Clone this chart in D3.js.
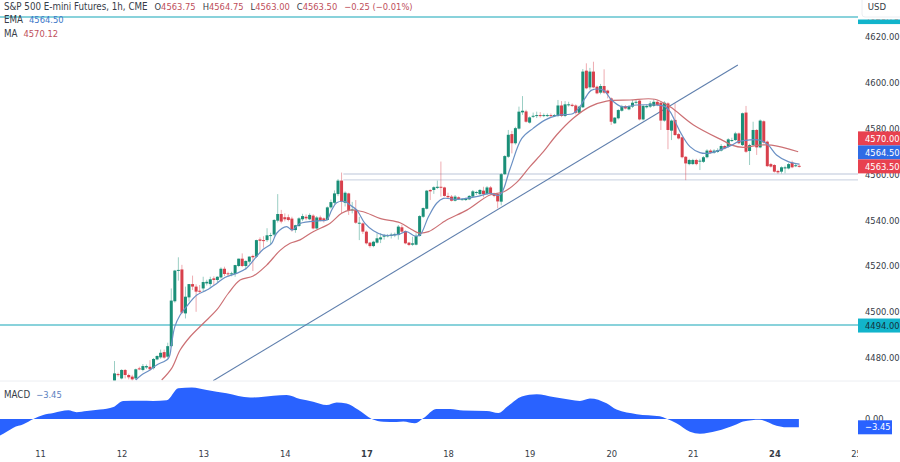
<!DOCTYPE html>
<html>
<head>
<meta charset="utf-8">
<script src="https://cdn.jsdelivr.net/npm/d3@7"></script>
<style>
  html, body { margin: 0; padding: 0; background: #fff; overflow: hidden; }
  text { font-family: "DejaVu Sans Condensed", "DejaVu Sans", sans-serif; }
</style>
</head>
<body>
<svg id="chart" width="900" height="462"></svg>
<script>
var firstBar = 21;

var opens = [
  4469.9,4472.8,4470.9,4474.6,4472.4,4471.7,4470.9,4475.3,4474.6,4475.7,
  4476,4475.4,4479.2,4480.1,4482.4,4480.4,4485,4504.6,4518,4518.5,
  4499.3,4506.3,4512.1,4511,4509.2,4510.2,4512.4,4512.1,4514.6,4513.9,
  4515,4518.8,4516.8,4516.5,4516.5,4520,4523.2,4520,4521.9,4524.4,
  4524.1,4531.6,4531.3,4531.3,4533.5,4533.7,4539.8,4542.7,4541.3,4541.3,
  4540.7,4535.7,4537.5,4540.4,4541.5,4540.4,4542,4536.4,4541.2,4540.8,
  4540.1,4545.6,4547.6,4551.4,4557.3,4547.6,4551.7,4544.5,4544.7,4538.6,
  4538.6,4535,4530.2,4528.7,4530.2,4531.6,4532.8,4533.1,4533.1,4533.4,
  4533.5,4536.9,4535.3,4530.2,4529.3,4529.3,4533.1,4541.5,4545,4553.2,
  4553.2,4554.1,4554.6,4554.3,4550.6,4550.3,4548.5,4550,4549.1,4548.8,
  4549.1,4550.3,4552.2,4551.4,4552.9,4551.4,4554.3,4551.7,4551.4,4548.1,
  4560.1,4567.7,4577.6,4573.6,4580,4587.1,4587.5,4582.6,4585.2,4585.5,
  4585.9,4585.5,4585.5,4585.9,4585.6,4585.5,4590.1,4585.5,4590.3,4590.4,
  4590.1,4586.9,4589.3,4605.3,4598,4604.9,4598.3,4595.7,4598.6,4596.6,
  4593.2,4582.3,4584.5,4587.8,4589.8,4588.4,4589.6,4591.5,4592.2,4584,
  4589.3,4589.6,4589.9,4591.7,4591.3,4583.5,4591,4579.1,4583.8,4577.6,
  4576.2,4567.7,4564.5,4564.5,4566.3,4565.7,4565.5,4567.5,4570.4,4569.5,
  4569.8,4570.4,4572.4,4572.1,4574.7,4575,4577.9,4572.8,4587,4570.2,
  4572.8,4579.4,4571.8,4583.2,4574.3,4564.5,4564.1,4561.5,4561.2,4562.6,
  4562.6,4565.1,4563.7,4563.75
];
var highs = [
  4478.5,4473.4,4474.9,4475,4473,4472.5,4475.2,4476,4477.2,4477,
  4478.9,4479.8,4481,4483.5,4483.5,4486.5,4510.2,4518.3,4523.8,4520.5,
  4511,4512.1,4515.8,4512,4511.7,4515.3,4514,4515.3,4515.5,4515.5,
  4519.4,4519.7,4517.5,4517.5,4520.5,4523.2,4525.5,4522.5,4524.2,4525,
  4531.5,4532.5,4533,4536.5,4534.5,4540.5,4551.4,4544.5,4543,4542.5,
  4541.5,4538,4541.3,4542.8,4542.5,4543,4542.6,4541.8,4542,4541.2,
  4546,4549,4553,4558,4560.8,4552.6,4552,4548,4548.8,4541.5,
  4539,4535.5,4530.5,4531,4534.3,4534.3,4534,4534,4534.5,4534.6,
  4537.9,4538,4535.6,4530.5,4532.8,4534.3,4542.2,4545.6,4553.2,4553.5,
  4554.8,4557.3,4565.6,4554.6,4552,4551,4551,4550.4,4549.6,4549.8,
  4551,4553.2,4552.8,4553.6,4554.6,4554.9,4554.9,4552,4551.8,4560.6,
  4568.4,4579.4,4579,4580.8,4589.6,4594.2,4588.2,4585.3,4587,4587.4,
  4587.2,4586.6,4586.6,4586.6,4586.4,4592.5,4592,4592,4591.7,4591,
  4590.6,4590,4606,4608.5,4606.5,4609.2,4598.8,4599.5,4605.9,4597,
  4593.6,4585,4588.5,4590.4,4590.3,4590.2,4592.5,4592.5,4592.8,4590.3,
  4590.6,4592,4592.8,4592.5,4592,4592,4591.5,4584,4591,4578,
  4576.6,4568,4566.8,4566.8,4566.8,4566.8,4568,4571,4571,4571,
  4571.4,4573.2,4572.8,4575.8,4576,4578.6,4578.3,4587,4589.9,4573.4,
  4583,4579.8,4584,4583.6,4574.8,4565,4564.5,4562,4563.5,4563.8,
  4565,4566,4565,4564.75
];
var lows = [
  4469.6,4471.7,4470.5,4470.9,4470.5,4469.9,4470.2,4474.5,4474,4475,
  4474.3,4474.8,4478.8,4479.5,4479.5,4479.5,4484.5,4504,4513.6,4499,
  4497.1,4504.5,4509.5,4500,4508,4509,4511.5,4511,4511.7,4513,
  4514.5,4515.6,4515.3,4515.5,4515.3,4519.5,4519.5,4518.3,4521,4517.8,
  4523.5,4525.5,4528,4530.5,4529.2,4533,4539,4538.6,4539.5,4539.5,
  4535,4534.5,4537,4539.6,4540,4540,4536,4536,4539.5,4539,
  4539.8,4545,4547,4550.5,4543,4546,4542.3,4543,4538.4,4531.3,
  4534,4529.4,4528,4528.2,4529.8,4530,4531.5,4532.5,4532,4532.6,
  4531.5,4534.5,4529.5,4528.7,4528.8,4529,4532.8,4541,4544.7,4548.8,
  4551.5,4553.6,4550.3,4550.3,4549.6,4548.2,4548.2,4548.8,4548.6,4548.4,
  4548.8,4550,4551,4551,4550,4551,4551.2,4550,4545.2,4546.5,
  4559.8,4567.2,4569.2,4573,4579.6,4586,4582.6,4582.2,4584.6,4584.6,
  4584.8,4585,4585,4585,4585.1,4585,4585,4585,4589.6,4589.4,
  4586.2,4586.4,4589,4597.2,4597,4597.6,4595,4595,4595.2,4593.2,
  4581.6,4582,4584,4587.4,4588.4,4588,4589,4590.6,4583.6,4583.6,
  4588.8,4589,4589.4,4589.8,4579.4,4583,4571,4575,4576.8,4575.3,
  4567,4557.5,4564,4564.2,4564,4561.9,4565,4567,4569,4569,
  4569.4,4570,4571,4571.6,4574.2,4574.6,4573.2,4572.4,4569.4,4564.1,
  4572.4,4568.5,4571.4,4573.5,4563.2,4563,4560.8,4560.2,4560.4,4560.5,
  4562.2,4562.7,4563.2,4563
];
var closes = [
  4473.1,4472.4,4474.6,4472.4,4471.4,4470.5,4474.9,4474.9,4476.3,4476.3,
  4474.9,4479.4,4480.7,4482.1,4480,4485,4504.9,4518,4518.3,4499.6,
  4506.6,4512.1,4511,4508.8,4509,4513,4513.1,4514.2,4513.9,4515.3,
  4518.8,4516.5,4516.4,4516.8,4520.4,4523.2,4520,4522.2,4524.1,4523.8,
  4531.3,4531,4531,4533.4,4533.5,4540.1,4542.7,4539.4,4540.4,4540.1,
  4535.7,4537.8,4540.8,4541.8,4540.8,4542.3,4536.4,4541.2,4539.8,4540.1,
  4545.6,4547.9,4551.7,4557.3,4548.1,4552,4544.2,4544.7,4538.9,4538.9,
  4535,4529.9,4528.7,4530.6,4532.1,4532.5,4533.4,4533.4,4533.7,4534,
  4537.2,4535,4529.9,4529.2,4529.9,4533.1,4541.8,4545.3,4552.9,4552.6,
  4554.4,4554.6,4554.3,4550.6,4550,4548.5,4550.3,4549.1,4549.2,4549.4,
  4550.6,4552.6,4552.3,4553.2,4551.4,4554.3,4551.7,4550.6,4548.2,4560.1,
  4568,4577.3,4573.6,4580.2,4587.4,4587.8,4583,4584.9,4585.6,4585.9,
  4585.5,4585.9,4585.9,4585.5,4585.9,4590.1,4585.5,4590.6,4590.6,4589.9,
  4586.9,4589.6,4604.9,4597.6,4604.9,4598,4595.4,4598.6,4595.7,4595.4,
  4583,4584.8,4588.1,4589.8,4588.8,4589.8,4591.3,4591.7,4584,4589.9,
  4589.9,4591,4591.7,4590.3,4583.5,4591.3,4579.4,4583.5,4577.2,4575.7,
  4567.5,4564.8,4566.3,4566.3,4564.5,4566,4567.5,4570.4,4569.5,4570.4,
  4570.6,4572.4,4571.4,4575.3,4575,4577.9,4573.6,4586.7,4569.9,4572.8,
  4579.4,4571.8,4583.5,4573.9,4563.6,4563.4,4561.2,4560.9,4563.1,4563.1,
  4564.5,4563.1,4564,4563.5
];

// moving averages at irregular bar positions
var emaBars = [27,28.6,31,32.9,36.2,37.1,38,39.5,40.9,44.2,47,49.8,52.1,55.4,58.2,60.6,62.9,65.3,66.7,69.5,71.1,73.3,78.9,80.8,82.2,83.6,86,87.4,89.3,91.6,94,96.8,101,103.3,105.7,107.1,109.5,111.8,113.7,117.4,123,126.8,129.6,132.5,135.8,139,142.3,146.1,150.3,152.2,153.6,155.5,158.8,161.1,163.9,168.2,173.3,176.2,177.6,180.4,183.2,186,188.4,191.2,195,196.8,199.6,202.9,205.3,207.6,210.9,214];
var emaValues = [4470.2,4472.4,4474.6,4476.8,4479.7,4486.2,4493.5,4498.6,4501.5,4507.3,4509.5,4512.4,4515,4516.8,4519,4523.3,4527.3,4529.9,4534.3,4537.2,4535.7,4538.6,4539.8,4540.1,4544.4,4547.6,4548.1,4546.6,4544.4,4538.6,4535.4,4533.5,4533.8,4535,4533.1,4533.5,4541.5,4547.4,4549.5,4549.1,4550.3,4551.7,4551,4562.5,4575.7,4580.1,4583.7,4585.9,4586.6,4589.6,4593.2,4596.8,4596.8,4592.5,4589.6,4590.3,4590.3,4589.6,4587.4,4578.7,4572.1,4569.5,4569.2,4570.4,4572.8,4574.3,4575,4575,4572.8,4568.5,4565.6,4564.5];
var maBars = [34.3,37.1,39.5,42.3,46,49.8,53.1,56.4,60.1,63.9,67.6,70.5,73.3,77,81.7,85,87.4,91.1,95.8,101.5,104.3,106.6,109.5,114.6,120.3,126.8,130.6,134.3,138.1,141.9,145.6,150.3,155,159.7,166.3,173.3,177.6,184.2,193.1,195,198.2,202.9,206.2,213.7];
var maValues = [4470.2,4475.3,4483.3,4489.1,4494.9,4500.8,4508.1,4513.9,4515.6,4520.4,4526.7,4529.9,4531.4,4535,4538.6,4543,4544.4,4543.7,4540.8,4538.9,4536.4,4534.5,4535,4540.1,4544.4,4551,4552.3,4556.4,4563.4,4569.9,4577.2,4584.5,4589.6,4592,4592.5,4592.8,4589.5,4581.6,4574.3,4572.8,4571.8,4572.8,4572.8,4569.9];

var macdBars = [-11.3,-9.4,-7.5,-4.7,-1.9,0.9,3.8,8,10.3,13.2,16.9,20.7,23.5,28.2,31.9,35.7,39,42.8,47,52.6,59.2,65.8,69.5,73.3,77,80.8,83.6,86.4,89.7,93.5,96.8,100.5,102.4,105.7,108,111.8,115.6,119.3,125.9,129.2,132,135.8,140,144.7,150.8,152.2,155,159.7,162.5,168.2,174.7,176.6,179.4,183.2,186,190.7,196.4,198.2,202.9,207.6,210.4,213.9];
var macdValues = [-6.9,-5.3,-3.6,-2.2,0,1.7,2.5,3.6,2.8,3.3,3.9,5,7.5,7.6,7.5,7.8,12.8,13.1,12.1,10.7,8.9,9.7,10,8.3,7.2,5.8,6.9,6.4,3.8,0,-1.1,-1.25,-1,-1.8,0.3,4.2,4.2,3.5,3.3,2.5,5.5,9.4,10.3,9.1,7.7,7.5,8.5,6.5,3.9,2,1.1,0.1,-1.8,-5.3,-6.1,-5,-2.2,-1,-0.3,-2.8,-3.45,-3.45];

var priceTicks = [4620, 4600, 4580, 4560, 4540, 4520, 4500, 4480];
var dayLabels = ["11", "12", "13", "14", "17", "18", "19", "20", "21", "24", "25"];
var boldDays = ["17", "24"];
var trendBars = [48.8, 196.7];
var trendValues = [4469.9, 4607.8];
var supportLevels = [4560.2, 4557.6];
var supportStart = 85.5;
var cyanLevels = [4628.7, 4494];
var stackedLabels = ["4570.00", "4564.50", "4563.50"];
var stackedKinds = ["down", "ema", "down"];
var lastPrice = 4563.5;

var colors = {
  up: "#1a8f78",
  down: "#d8404c",
  ema: "#6a90c4",
  ma: "#cc7074",
  trend: "#5f7fad",
  cyan: "#62c3cf",
  support: "#d2d9e6",
  macd: "#2962ff",
  text: "#363c47",
  legendRed: "#c0505c",
  tagRed: "#e8414f",
  tagBlue: "#2f6ce5",
  tagCyan: "#12b4cb"
};
var fontSize = "9.3px";
var titleSize = "9.7px";

var x = d3.scaleLinear().domain([0, 230]).range([40, 856]);
var y = d3.scaleLinear().domain([4620, 4480]).range([37, 357.6]);
var yMacd = d3.scaleLinear().domain([0, -3.45]).range([419, 427.3]);

var svg = d3.select("#chart");

svg.append("clipPath").attr("id", "main-clip")
  .append("rect").attr("width", 858).attr("height", 381);
svg.append("clipPath").attr("id", "time-clip")
  .append("rect").attr("width", 858).attr("height", 14);

var main = svg.append("g").attr("clip-path", "url(#main-clip)");

/* price levels and drawings */
main.selectAll(".support").data(supportLevels).enter().append("line")
  .attr("class", "support")
  .attr("x1", x(supportStart)).attr("x2", 858)
  .attr("y1", d => y(d)).attr("y2", d => y(d))
  .attr("stroke", colors.support).attr("stroke-width", 1.4);

main.selectAll(".cyan").data(cyanLevels).enter().append("line")
  .attr("class", "cyan")
  .attr("x1", 0).attr("x2", 858)
  .attr("y1", d => Math.floor(y(d))).attr("y2", d => Math.floor(y(d)))
  .attr("stroke", colors.cyan).attr("stroke-width", 1.6);

main.append("line")
  .attr("x1", x(trendBars[0])).attr("y1", y(trendValues[0]))
  .attr("x2", x(trendBars[1])).attr("y2", y(trendValues[1]))
  .attr("stroke", colors.trend).attr("stroke-width", 1.1);

/* candles */
var bars = d3.range(opens.length);
var candleColor = i => closes[i] >= opens[i] ? colors.up : colors.down;

main.selectAll(".wick").data(bars).enter().append("line")
  .attr("class", "wick")
  .attr("x1", i => x(firstBar + i)).attr("x2", i => x(firstBar + i))
  .attr("y1", i => y(highs[i])).attr("y2", i => y(lows[i]))
  .attr("stroke", candleColor).attr("stroke-width", 0.8).attr("stroke-opacity", 0.55);

main.selectAll(".body").data(bars).enter().append("rect")
  .attr("class", "body")
  .attr("x", i => x(firstBar + i) - 1.5)
  .attr("width", 3)
  .attr("y", i => y(Math.max(opens[i], closes[i])))
  .attr("height", i => Math.max(1, Math.abs(y(opens[i]) - y(closes[i]))))
  .attr("fill", candleColor);

/* moving averages */
var priceLine = d3.line()
  .x(d => x(d[0]))
  .y(d => y(d[1]))
  .curve(d3.curveCatmullRom.alpha(0.5));

main.append("path")
  .attr("d", priceLine(d3.zip(maBars, maValues)))
  .attr("fill", "none").attr("stroke", colors.ma).attr("stroke-width", 1.2);
main.append("path")
  .attr("d", priceLine(d3.zip(emaBars, emaValues)))
  .attr("fill", "none").attr("stroke", colors.ema).attr("stroke-width", 1.2);

/* MACD pane */
svg.append("line")
  .attr("x1", 0).attr("x2", 900).attr("y1", 381).attr("y2", 381)
  .attr("stroke", "#eceef2");

var macdArea = d3.area()
  .x(d => x(d[0]))
  .y0(yMacd(0))
  .y1(d => yMacd(d[1]))
  .curve(d3.curveMonotoneX);

svg.append("path")
  .attr("d", macdArea(d3.zip(macdBars, macdValues)))
  .attr("fill", colors.macd);

/* axes */
var priceAxis = d3.axisRight(y)
  .tickValues(priceTicks)
  .tickSize(0)
  .tickPadding(7)
  .tickFormat(d3.format(".2f"));
var priceAxisG = svg.append("g")
  .attr("transform", "translate(858,0)")
  .call(priceAxis);
priceAxisG.select(".domain").remove();
priceAxisG.selectAll("text")
  .style("font-size", fontSize).attr("fill", colors.text);

var macdAxis = d3.axisRight(yMacd)
  .tickValues([0])
  .tickSize(0)
  .tickPadding(7)
  .tickFormat(d3.format(".2f"));
var macdAxisG = svg.append("g")
  .attr("transform", "translate(858,0)")
  .call(macdAxis);
macdAxisG.select(".domain").remove();
macdAxisG.selectAll("text")
  .style("font-size", fontSize).attr("fill", colors.text);

var timeAxis = d3.axisBottom(x)
  .tickValues(dayLabels.map((d, i) => i * 23))
  .tickSize(0)
  .tickPadding(0)
  .tickFormat((d, i) => dayLabels[i]);
var timeAxisG = svg.append("g")
  .attr("transform", "translate(0,450)")
  .attr("clip-path", "url(#time-clip)")
  .call(timeAxis);
timeAxisG.select(".domain").remove();
timeAxisG.selectAll("text")
  .style("font-size", fontSize)
  .style("font-weight", (d, i) => boldDays.includes(dayLabels[i]) ? "bold" : "normal")
  .attr("fill", colors.text);

/* value tags on the price axis */
function drawTag(label, ypos, fill, textColor) {
  var g = svg.append("g").attr("transform", "translate(858," + ypos + ")");
  g.append("rect").attr("y", -7).attr("width", 42).attr("height", 14).attr("fill", fill);
  g.append("text").attr("x", 7).attr("dy", "0.34em")
    .style("font-size", fontSize).attr("fill", textColor).text(label);
}
drawTag("4628.75", y(cyanLevels[0]), colors.tagCyan, "#1d4a52");
drawTag("4494.00", y(cyanLevels[1]), colors.tagCyan, "#14323a");
// the last three tags stack upwards from the last price so they do not cover each other
stackedLabels.forEach(function (label, i) {
  var pos = y(lastPrice) - (stackedLabels.length - 1 - i) * 14;
  drawTag(label, pos, stackedKinds[i] === "ema" ? colors.tagBlue : colors.tagRed, "#fff");
});

var macdTag = svg.append("g")
  .attr("transform", "translate(858," + yMacd(-3.45) + ")");
macdTag.append("rect")
  .attr("y", -7).attr("width", 34).attr("height", 14).attr("fill", colors.macd);
macdTag.append("text")
  .attr("x", 7).attr("dy", "0.34em")
  .style("font-size", fontSize).attr("fill", "#fff")
  .text("\u22123.45");

/* USD button */
svg.append("rect")
  .attr("x", 858).attr("y", 0).attr("width", 42).attr("height", 19.5)
  .attr("fill", "#fff");
svg.append("rect")
  .attr("x", 862).attr("y", -4).attr("width", 42).attr("height", 21).attr("rx", 3)
  .attr("fill", "#fff").attr("stroke", "#eceef2");
svg.append("text")
  .attr("x", 877).attr("y", 7).attr("dy", "0.34em").attr("text-anchor", "middle")
  .style("font-size", "9.5px").attr("fill", colors.text)
  .text("USD");

/* legend */
function legendLine(ypos, parts) {
  var t = svg.append("text")
    .attr("x", 4).attr("y", ypos).attr("dy", "0.34em")
    .style("font-size", fontSize).attr("fill", colors.text);
  parts.forEach(function (p) {
    t.append("tspan")
      .attr("fill", p[1] || colors.text)
      .attr("dx", p[2] || 0)
      .style("font-size", p[3] || fontSize)
      .text(p[0]);
  });
}
legendLine(6.5, [
  ["S&P 500 E-mini Futures, 1h, CME", null, 0, titleSize],
  ["O", null, 7], ["4563.75", colors.legendRed],
  ["H", null, 7], ["4564.75", colors.legendRed],
  ["L", null, 7], ["4563.00", colors.legendRed],
  ["C", null, 7], ["4563.50", colors.legendRed],
  ["\u22120.25 (\u22120.01%)", colors.legendRed, 7]
]);
legendLine(20, [["EMA", null, 0, titleSize], ["4564.50", "#3d78c9", 6]]);
legendLine(34, [["MA", null, 0, titleSize], ["4570.12", colors.legendRed, 6]]);
legendLine(395, [["MACD", null, 0, titleSize], ["\u22123.45", "#5c7fc0", 6]]);
</script>
</body>
</html>
